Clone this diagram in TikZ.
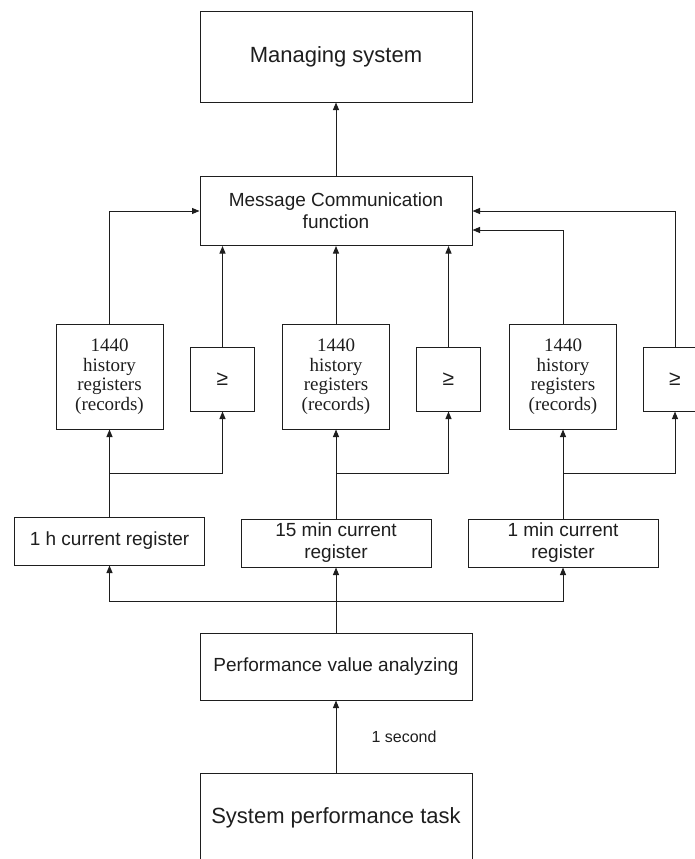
\documentclass[tikz,border=0pt]{standalone}
\usepackage{fontspec}
\setmainfont{Liberation Sans}
\newfontfamily\recfont{Liberation Serif}
\usetikzlibrary{arrows.meta, positioning}
\definecolor{ink}{HTML}{1E1E1E}
\tikzset{
  blk/.style={draw=ink, line width=1pt, align=center, inner sep=2pt, text=ink, font=\fontsize{19}{22}\selectfont},
  hist/.style={blk, minimum width=107pt, minimum height=105pt, font=\recfont\fontsize{19}{19.5}\selectfont},
  cmp/.style={blk, minimum width=64pt, minimum height=64pt, font=\fontsize{21}{21}\selectfont},
  curreg/.style={blk, minimum width=190pt, minimum height=48pt},
  wide/.style={blk, minimum width=272pt},
  flow/.style={draw=ink, line width=1pt, -{Triangle[length=7.5pt,width=6pt]}},
  link/.style={draw=ink, line width=1pt}
}

\begin{document}
\begin{tikzpicture}[x=1pt,y=-1pt]
  \useasboundingbox (0,0) rectangle (695,859);
  \clip (0,0) rectangle (695,859);
  \node[wide, minimum height=90pt, font=\fontsize{22}{26}\selectfont] (mgr) at (336,57) {Managing system};
  \node[wide, minimum height=69pt] (msg) at (336,211) {Message Communication\\function};
  \node[hist] (hist1) at (109.5,376.5) {1440\\history\\registers\\(records)};
  \node[hist] (hist2) at (336,376.5) {1440\\history\\registers\\(records)};
  \node[hist] (hist3) at (563,376.5) {1440\\history\\registers\\(records)};
  \node[cmp] (ge1) at (222.5,379) {≥};
  \node[cmp] (ge2) at (448.5,379) {≥};
  \node[cmp] (ge3) at (675,379) {≥};
  \node[curreg] (cur1) at (109.5,541) {1 h current register};
  \node[curreg] (cur2) at (336,543) {15 min current\\register};
  \node[curreg] (cur3) at (563,543) {1 min current\\register};
  \node[wide, minimum height=67pt] (perf) at (336,666.5) {Performance value analyzing};
  \node[wide, minimum height=90pt, font=\fontsize{22}{26}\selectfont] (task) at (336,818) {System performance task};
  \node[anchor=west, text=ink, font=\fontsize{16}{19}\selectfont] (rate) at (368,737) {1 second};

  \coordinate (j1) at (109.5,473);
  \coordinate (j2) at (336,473);
  \coordinate (j3) at (563,473);
  \coordinate (fan) at (336,601);

  \draw[flow] (msg) -- (mgr);
  \draw[flow] (hist1) |- (msg.west);
  \draw[flow] (ge1) -- (ge1 |- msg.south);
  \draw[flow] (hist2) -- (msg);
  \draw[flow] (ge2) -- (ge2 |- msg.south);
  \draw[flow] (hist3) |- ([yshift=-19pt]msg.east);
  \draw[flow] (ge3) |- (msg.east);

  \foreach \k in {1,2,3}{
    \draw[link] (cur\k) -- (j\k);
    \draw[flow] (j\k) -- (hist\k);
    \draw[flow] (j\k) -| (ge\k);
  }

  \draw[link] (perf) -- (fan);
  \draw[flow] (fan) -- (cur2);
  \draw[flow] (fan) -| (cur1);
  \draw[flow] (fan) -| (cur3);
  \draw[flow] (task) -- (perf);
\end{tikzpicture}
\end{document}
